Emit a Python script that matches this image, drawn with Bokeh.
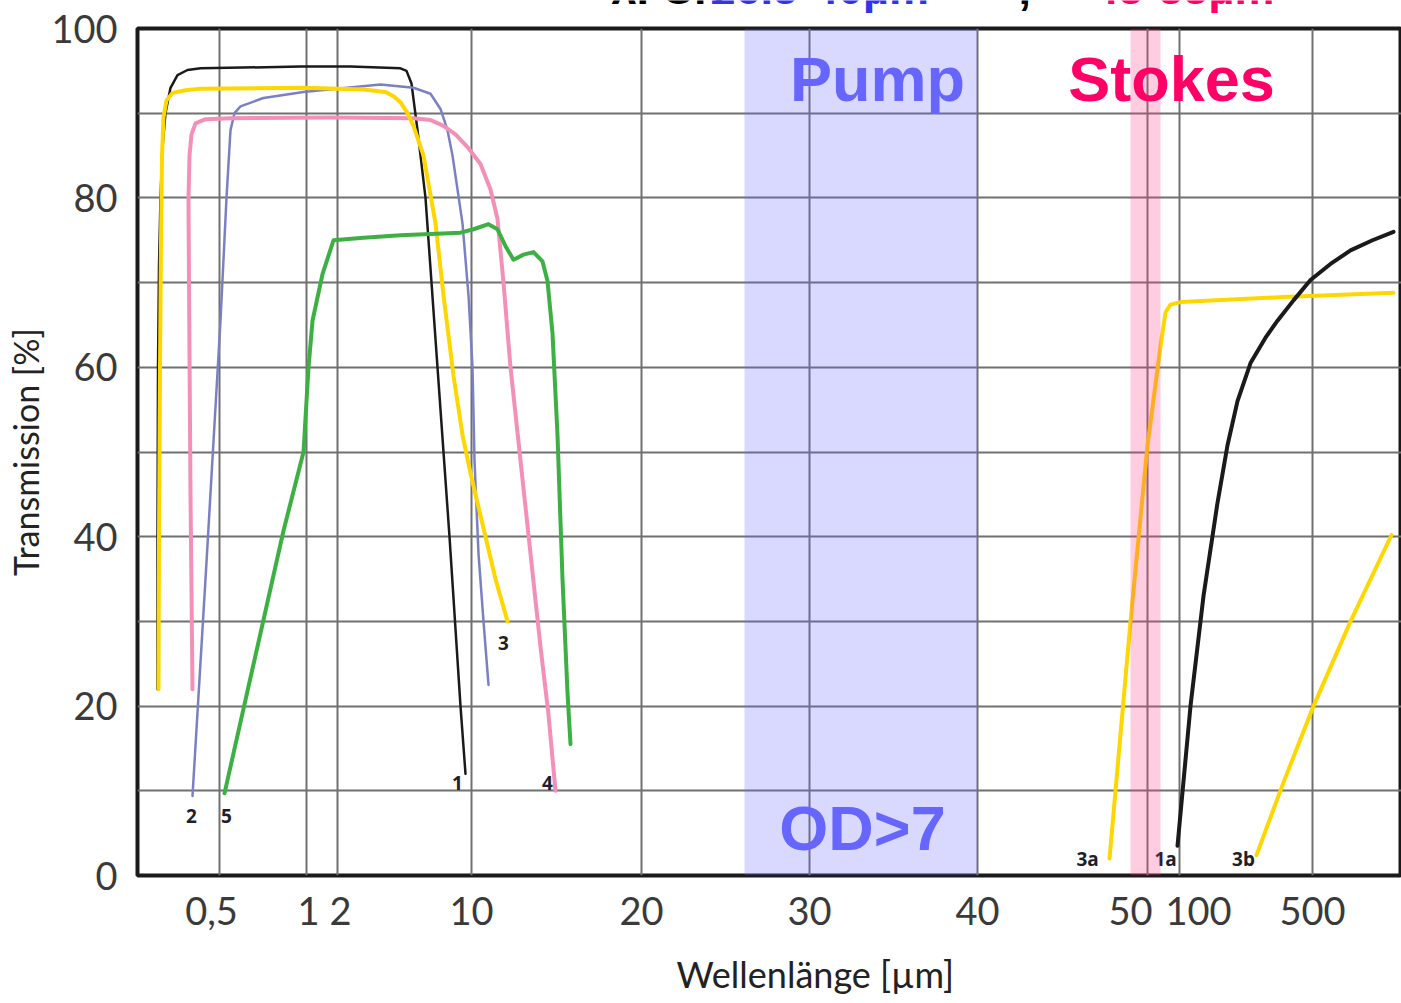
from bokeh.plotting import figure
from bokeh.layouts import column
from bokeh.models import FixedTicker, Label, BoxAnnotation, ColumnDataSource
from bokeh.core.properties import value
from bokeh.embed import file_html
from bokeh.resources import INLINE

# x values are positions on the chart's composite wavelength scale ("scale units")
grid_pos = [82, 169, 200, 334, 504, 672, 840, 1010, 1042, 1175]
label_pos = [74, 171, 203, 334, 504, 672, 840, 993, 1061, 1175]
tick_labels = ["0,5", "1", "2", "10", "20", "30", "40", "50", "100", "500"]

c1_x = [20, 20, 20.5, 21.5, 23, 25, 28, 33, 40, 50, 63, 163, 213, 263, 269, 274, 280, 288, 300, 312, 323, 328]
c1_y = [22, 40, 60, 72, 80, 86, 90, 93, 94.5, 95.1, 95.3, 95.5, 95.5, 95.3, 95.0, 93.5, 88, 80, 60, 40, 20, 12]

c2_x = [55, 69, 83, 89, 93, 97, 103, 126, 166, 243, 276, 293, 303, 310, 315, 325, 331, 335, 337, 341, 346, 351]
c2_y = [9.4, 37, 65.5, 80, 88, 90, 90.8, 91.8, 92.5, 93.4, 93.0, 92.3, 90.5, 88, 85, 77, 68.5, 60, 49, 38, 30, 22.5]

c3_x = [21, 21.5, 22.5, 23.5, 24.5, 26, 29, 35, 48, 63, 166, 226, 248, 256, 263, 270, 276, 286, 298, 306, 316, 325, 333, 346, 358, 370]
c3_y = [22, 40, 60, 75, 85, 89.5, 91.5, 92.4, 92.7, 92.9, 93.0, 92.8, 92.5, 92.0, 91.3, 90.0, 88.5, 85, 77, 68.5, 59, 52, 47.5, 41, 35, 30]

c4_x = [55, 53, 51.5, 51, 52, 54, 58, 68, 93, 193, 276, 293, 306, 318, 330, 343, 353, 360, 366, 373, 383, 393, 403, 411, 418]
c4_y = [22, 45, 70, 80, 85, 87.5, 88.8, 89.3, 89.4, 89.5, 89.4, 89.2, 88.5, 87.5, 86, 84, 81, 77.5, 70, 60, 49, 38, 27, 19, 10]

c5_x = [87, 146, 166, 171, 175, 185, 196, 226, 263, 323, 336, 351, 360, 368, 376, 386, 396, 405, 410, 415, 420, 425, 430, 433]
c5_y = [9.7, 40.7, 50, 60, 65.5, 71, 75, 75.3, 75.6, 75.9, 76.3, 76.9, 76.3, 74.3, 72.7, 73.3, 73.6, 72.5, 70.2, 64, 52, 35, 21.6, 15.5]

c3a_x = [972, 993, 1010, 1023, 1028, 1033, 1043, 1146, 1256]
c3a_y = [2, 30, 50.8, 62.5, 66.5, 67.4, 67.7, 68.3, 68.8]

c1a_x = [1040, 1053, 1066, 1080, 1090, 1100, 1113, 1128, 1140, 1156, 1173, 1193, 1213, 1235, 1256]
c1a_y = [3.5, 20, 33, 44, 50.8, 56, 60.5, 63.5, 65.5, 67.9, 70.3, 72.2, 73.8, 75.0, 76.0]

c3b_x = [1119, 1146, 1176, 1213, 1254]
c3b_y = [2.4, 11, 20, 30, 40.2]

curve_names = ["1", "2", "3", "4", "5", "3a", "1a", "3b"]
curve_label_x = [320, 54, 366, 410, 89, 950, 1028, 1106]
curve_label_y = [10.9, 7.0, 27.4, 10.9, 7.0, 2.0, 2.0, 2.0]

pump_band = (607, 840)
stokes_band = (993, 1023)

# header line (only its lower edge is visible in the reference)
head_text = ["λ. Cr:", "26.5-40µm", ",", "45-55µm"]
head_color = ["#000000", "#3333ee", "#000000", "#ff0066"]
head_x = [474, 573, 881, 956]

# ---- header strip (drawn underneath the chart's transparent top border) ----
top = figure(width=1401, height=24, x_range=(0, 1264), y_range=(0, 24),
             output_backend="svg", toolbar_location=None,
             x_axis_location=None, y_axis_location=None,
             min_border=0, min_border_left=137, min_border_right=0,
             min_border_top=0, min_border_bottom=0,
             background_fill_color=None, border_fill_color=None)
top.outline_line_color = None
top.xgrid.visible = False
top.ygrid.visible = False
hsrc = ColumnDataSource(dict(x=head_x, y=[24 + 12] * 4, t=head_text, c=head_color))
top.text(x="x", y="y", text="t", text_color="c", source=hsrc,
         text_font=value("Liberation Sans"), text_font_style="bold",
         text_font_size="45px", text_align="left", text_baseline="middle")

# ---- main chart ----
p = figure(width=1401, height=1003, x_range=(0, 1264), y_range=(0, 100),
           output_backend="svg", toolbar_location=None,
           min_border_left=137, min_border_right=0, min_border_top=28, min_border_bottom=128,
           background_fill_color="white", border_fill_color=None)
p.margin = (-24, 0, 0, 0)

p.outline_line_color = "#1a1a1a"
p.outline_line_width = 4

p.xaxis.ticker = FixedTicker(ticks=label_pos)
p.xaxis.major_label_overrides = {t: l for t, l in zip(label_pos, tick_labels)}
p.yaxis.ticker = FixedTicker(ticks=[0, 20, 40, 60, 80, 100])
p.xgrid.ticker = FixedTicker(ticks=grid_pos)
p.ygrid.ticker = FixedTicker(ticks=list(range(0, 101, 10)))
for g in (p.xgrid, p.ygrid):
    g.grid_line_color = "#707070"
    g.grid_line_width = 2

for ax in (p.xaxis, p.yaxis):
    ax.axis_line_color = None
    ax.major_tick_line_color = None
    ax.minor_tick_line_color = None
    ax.major_label_text_font = "Lato"
    ax.major_label_text_font_size = "38px"
    ax.major_label_text_color = "#3a3a3a"
    ax.axis_label_text_font = "Lato"
    ax.axis_label_text_font_style = "normal"
    ax.axis_label_text_color = "#222222"

p.xaxis.major_label_standoff = 15
p.yaxis.major_label_standoff = 14
p.xaxis.axis_label = "\u00a0" * 10 + "Wellenlänge [µm]"
p.yaxis.axis_label = "Transmission [%]"
p.xaxis.axis_label_text_font_size = "36px"
p.yaxis.axis_label_text_font_size = "34px"
p.xaxis.axis_label_standoff = 24
p.yaxis.axis_label_standoff = 2

kw = dict(line_join="round", line_cap="round")
p.line(c1_x, c1_y, line_color="#1a1a1a", line_width=2.5, **kw)
p.line(c2_x, c2_y, line_color="#7b80c2", line_width=2.5, **kw)
p.line(c4_x, c4_y, line_color="#f48fb8", line_width=4, **kw)
p.line(c3_x, c3_y, line_color="#ffd700", line_width=4, **kw)
p.line(c5_x, c5_y, line_color="#3cb043", line_width=4, **kw)
p.line(c3a_x, c3a_y, line_color="#ffd700", line_width=4, **kw)
p.line(c1a_x, c1a_y, line_color="#1a1a1a", line_width=4, **kw)
p.line(c3b_x, c3b_y, line_color="#ffd700", line_width=4, **kw)

src = ColumnDataSource(dict(x=curve_label_x, y=curve_label_y, t=curve_names))
p.text(x="x", y="y", text="t", source=src, text_font=value("Noto Sans"),
       text_font_style="bold", text_font_size="19px", text_color="#1e1e2e",
       text_align="center", text_baseline="middle")

p.add_layout(BoxAnnotation(left=pump_band[0], right=pump_band[1], fill_color="#6666ff",
                           fill_alpha=0.25, line_color=None))
p.add_layout(BoxAnnotation(left=stokes_band[0], right=stokes_band[1], fill_color="#ff3385",
                           fill_alpha=0.25, line_color=None))

big = dict(text_font="Liberation Sans", text_font_style="bold", text_font_size="63px",
           text_align="center", text_baseline="middle")
p.add_layout(Label(x=740, y=94.0, text="Pump", text_color="#6666ff", **big))
p.add_layout(Label(x=1034, y=94.0, text="Stokes", text_color="#ff0066", **big))
p.add_layout(Label(x=725, y=5.6, text="OD>7", text_color="#6666ff", **big))

layout = column(top, p, spacing=0)
open("out.html", "w").write(file_html(layout, INLINE))
